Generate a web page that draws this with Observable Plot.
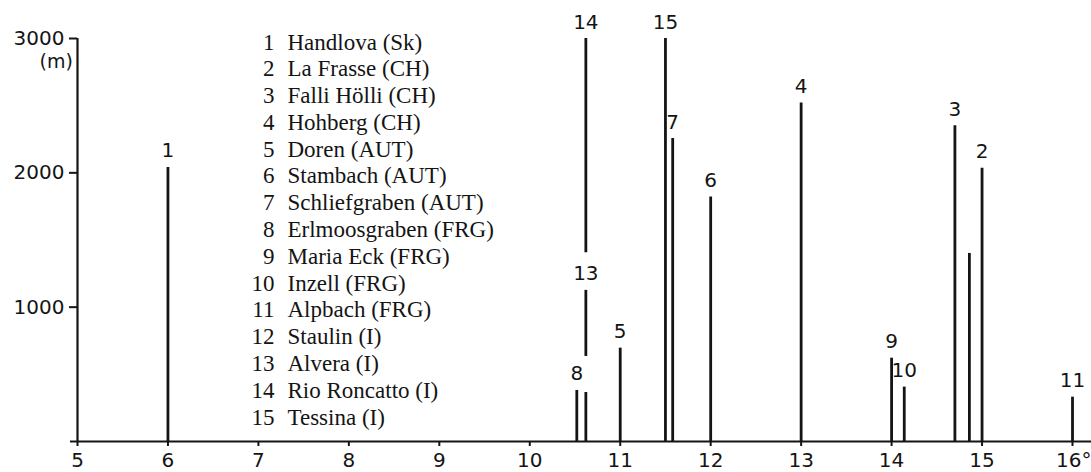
<!DOCTYPE html>
<html>
<head>
<meta charset="utf-8">
<script src="https://cdn.jsdelivr.net/npm/d3@7"></script>
<script src="https://cdn.jsdelivr.net/npm/@observablehq/plot@0.6"></script>
<style>
  html, body { margin: 0; padding: 0; background: #fff; }
</style>
</head>
<body>
<div id="chart"></div>
<script>
// Legend: site numbers and names
const legendNums = ["1","2","3","4","5","6","7","8","9","10","11","12","13","14","15"];
const legendNames = [
  "Handlova (Sk)", "La Frasse (CH)", "Falli Hölli (CH)", "Hohberg (CH)",
  "Doren (AUT)", "Stambach (AUT)", "Schliefgraben (AUT)", "Erlmoosgraben (FRG)",
  "Maria Eck (FRG)", "Inzell (FRG)", "Alpbach (FRG)", "Staulin (I)",
  "Alvera (I)", "Rio Roncatto (I)", "Tessina (I)"
];

// Vertical bars: longitude (°E), bottom and top elevation (m), label
const segLon   = [6.0, 15.0, 14.70, 13.0, 11.0, 12.0, 11.58, 10.52, 14.0, 14.14, 16.0, 10.62, 10.62, 10.62, 11.50, 14.86];
const segBase  = [0,    0,    0,     0,    0,    0,    0,     0,     0,    0,     0,    0,     633,   1405,  0,     0];
const segTop   = [2040, 2035, 2350,  2520, 695,  1820, 2255,  380,   620,  405,   330,  365,   1125,  3000,  3000,  1400];
const segLabel = ["1",  "2",  "3",   "4",  "5",  "6",  "7",   "8",   "9",  "10",  "11", "",    "13",  "14",  "15",  ""];

// Axis ticks
const xTicks = [5, 6, 7, 8, 9, 10, 11, 12, 13, 14, 15, 16];
const xTickLabels = ["5","6","7","8","9","10","11","12","13","14","15","16°"];
const yTicks = [1000, 2000, 3000];
const yTickLabels = ["1000", "2000", "3000"];

const segments = segLon.map((x, i) => ({x, y1: segBase[i], y2: segTop[i], label: segLabel[i]}));
const ink = "#141414";
const lastTick = xTicks.length - 1;

const chart = Plot.plot({
  width: 1091,
  height: 472,
  marginLeft: 77,
  marginRight: 19,
  marginTop: 38,
  marginBottom: 31,
  x: {domain: [5, 16]},
  y: {domain: [0, 3000]},
  style: {fontFamily: "DejaVu Sans", fontSize: "20px", color: ink, background: "#fff"},
  marks: [
    Plot.axisX({ticks: xTicks, tickFormat: d => (xTicks.indexOf(d) === lastTick ? "" : xTickLabels[xTicks.indexOf(d)]), tickSize: 5, tickPadding: 6, fontSize: 20, strokeWidth: 2, stroke: ink, fill: ink, label: null}),
    // last x tick label ("16°") right-aligned so it stays inside the picture
    Plot.text([xTickLabels[lastTick]], {x: () => xTicks[lastTick], text: d => d, frameAnchor: "bottom", textAnchor: "end", dx: 19, dy: 11, lineAnchor: "top", fontSize: 20, fill: ink}),
    Plot.axisY({ticks: yTicks, tickFormat: d => yTickLabels[yTicks.indexOf(d)], tickSize: 8, tickPadding: 5, fontSize: 20, strokeWidth: 2, stroke: ink, fill: ink, label: null}),
    Plot.text(["(m)"], {text: d => d, frameAnchor: "top-left", dx: -38, dy: 16, fontSize: 19, fill: ink}),
    Plot.ruleY([0], {insetLeft: -7, insetRight: -19, strokeWidth: 2, stroke: ink}),
    Plot.ruleX([5], {strokeWidth: 2.2, stroke: ink}),
    Plot.ruleX(segments, {x: "x", y1: "y1", y2: "y2", strokeWidth: 2.8, stroke: ink}),
    Plot.text(segments.filter(d => d.label), {x: "x", y: "y2", text: "label", lineAnchor: "bottom", dy: -10, fontSize: 20, fill: ink}),
    Plot.text([legendNums.join("\n")], {text: d => d, frameAnchor: "top-left", textAnchor: "end", lineAnchor: "top", lineHeight: 1.165, dx: 197, dy: -8, fontFamily: "Liberation Serif", fontSize: 23, fill: ink}),
    Plot.text([legendNames.join("\n")], {text: d => d, frameAnchor: "top-left", textAnchor: "start", lineAnchor: "top", lineHeight: 1.165, dx: 210, dy: -8, fontFamily: "Liberation Serif", fontSize: 23, fill: ink})
  ]
});
document.getElementById("chart").appendChild(chart);
</script>
</body>
</html>
